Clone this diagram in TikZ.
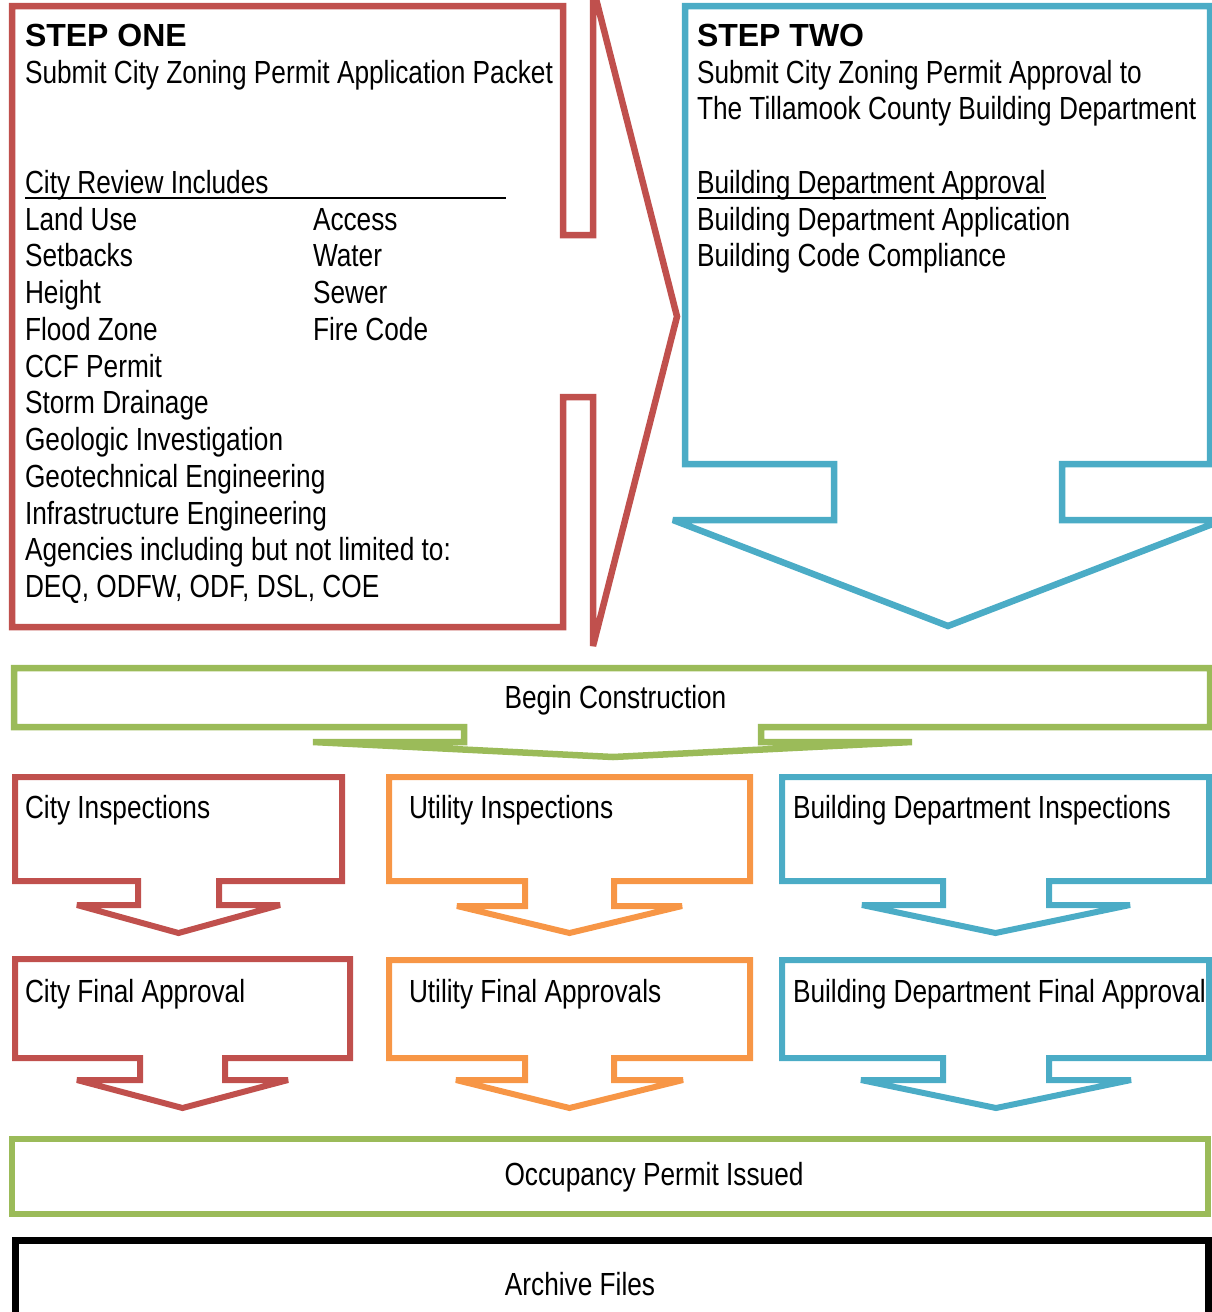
\documentclass[tikz,border=0pt]{standalone}
\usepackage{fontspec}
\setmainfont{Liberation Sans}[FakeStretch=0.82]
\newfontfamily\boldarial{Liberation Sans}
\definecolor{cred}{HTML}{C0504D}
\definecolor{cblue}{HTML}{4BACC6}
\definecolor{cgreen}{HTML}{9BBB59}
\definecolor{corange}{HTML}{F79646}
\begin{document}
\begin{tikzpicture}[x=1pt,y=-1pt,line join=miter,miter limit=2,
  every node/.style={inner sep=0pt,outer sep=0pt,font=\fontsize{32}{37}\selectfont},
  txt/.style={anchor=base west},
  ctxt/.style={anchor=base},
  outline/.style={line width=6.5pt},
  smalloutline/.style={line width=6pt},
  uline/.style={line width=2.5pt}]
\useasboundingbox (0,0) rectangle (1212,1312);
\clip (0,0) rectangle (1212,1312);
% STEP ONE right arrow callout
\draw[outline,draw=cred] (12,6) -- (563,6) -- (563,235) -- (593,235) -- (593,-13) -- (677,316.5) -- (593,646) -- (593,397) -- (563,397) -- (563,627) -- (12,627) -- cycle;
% STEP TWO down arrow callout
\draw[outline,draw=cblue] (685,6) -- (1210,6) -- (1210,464) -- (1062,464) -- (1062,520) -- (1223,520) -- (948,626) -- (673,520) -- (834,520) -- (834,464) -- (685,464) -- cycle;
% Begin Construction
\draw[outline,draw=cgreen] (14,668) -- (1210,668) -- (1210,727) -- (761,727) -- (761,742) -- (912,742) -- (613,757) -- (313,742) -- (464,742) -- (464,727) -- (14,727) -- cycle;
% City column
\draw[smalloutline,draw=cred] (15,777) -- (342,777) -- (342,881) -- (219,881) -- (219,905) -- (280,905) -- (178.5,933) -- (77,905) -- (138,905) -- (138,881) -- (15,881) -- cycle;
\draw[smalloutline,draw=cred] (15,959) -- (350,959) -- (350,1058) -- (225,1058) -- (225,1080) -- (288,1080) -- (182.5,1108) -- (77,1080) -- (140,1080) -- (140,1058) -- (15,1058) -- cycle;
% Utility column
\draw[smalloutline,draw=corange] (389,777) -- (750,777) -- (750,881) -- (614,881) -- (614,906) -- (682,906) -- (569.5,933) -- (457,906) -- (525,906) -- (525,881) -- (389,881) -- cycle;
\draw[smalloutline,draw=corange] (389,960) -- (750,960) -- (750,1058) -- (614,1058) -- (614,1080) -- (683,1080) -- (569.5,1108) -- (456,1080) -- (525,1080) -- (525,1058) -- (389,1058) -- cycle;
% Building column
\draw[smalloutline,draw=cblue] (782,777) -- (1209,777) -- (1209,881) -- (1049,881) -- (1049,905) -- (1130,905) -- (995.5,933) -- (862,905) -- (943,905) -- (943,881) -- (782,881) -- cycle;
\draw[smalloutline,draw=cblue] (782,960) -- (1209,960) -- (1209,1058) -- (1049,1058) -- (1049,1080) -- (1131,1080) -- (996,1108) -- (861,1080) -- (943,1080) -- (943,1058) -- (782,1058) -- cycle;
% Occupancy and Archive
\draw[outline,draw=cgreen] (12,1139) rectangle (1208,1214);
\draw[line width=7pt,draw=black] (15,1240) rectangle (1208,1322);

% STEP ONE text
\node[txt] (s1title) at (25,46.5) {\boldarial\bfseries STEP ONE};
\node[txt] (s1sub) at (25,83.2) {Submit City Zoning Permit Application Packet};
\node[txt] (cri) at (25,193.4) {City Review Includes};
\draw[uline] ([yshift=-4.5pt]cri.base west) -- ++(481,0);
\node[txt] (lu) at (25,230.2) {Land Use};
\node[txt] (sb) at (25,266.9) {Setbacks};
\node[txt] (ht) at (25,303.6) {Height};
\node[txt] (fz) at (25,340.3) {Flood Zone};
\node[txt] (ccf) at (25,377.1) {CCF Permit};
\node[txt] (sd) at (25,413.8) {Storm Drainage};
\node[txt] (gi) at (25,450.5) {Geologic Investigation};
\node[txt] (ge) at (25,487.3) {Geotechnical Engineering};
\node[txt] (ie) at (25,524.0) {Infrastructure Engineering};
\node[txt] (ag) at (25,560.7) {Agencies including but not limited to:};
\node[txt] (deq) at (25,597.5) {DEQ, ODFW, ODF, DSL, COE};
\node[txt] (acc) at (313,230.2) {Access};
\node[txt] (wat) at (313,266.9) {Water};
\node[txt] (sew) at (313,303.6) {Sewer};
\node[txt] (fc) at (313,340.3) {Fire Code};

% STEP TWO text
\node[txt] (s2title) at (697,46.5) {\boldarial\bfseries STEP TWO};
\node[txt] (s2a) at (697,83.2) {Submit City Zoning Permit Approval to};
\node[txt] (s2b) at (697,119.9) {The Tillamook County Building Department};
\node[txt] (bda) at (697,193.4) {Building Department Approval};
\draw[uline] ([yshift=-4.5pt]bda.base west) -- ([yshift=-4.5pt]bda.base east);
\node[txt] (bdapp) at (697,230.2) {Building Department Application};
\node[txt] (bcc) at (697,266.9) {Building Code Compliance};

% lower texts
\node[ctxt] (bc) at (615.5,708.5) {Begin Construction};
\node[txt] (ci) at (25,818) {City Inspections};
\node[txt] (ui) at (409,818) {Utility Inspections};
\node[txt] (bdi) at (793,818) {Building Department Inspections};
\node[txt] (cfa) at (25,1002) {City Final Approval};
\node[txt] (ufa) at (409,1002) {Utility Final Approvals};
\node[txt] (bdfa) at (793,1002) {Building Department Final Approval};
\node[ctxt] (opi) at (654,1185) {Occupancy Permit Issued};
\node[ctxt] (af) at (580,1295) {Archive Files};
\end{tikzpicture}
\end{document}
